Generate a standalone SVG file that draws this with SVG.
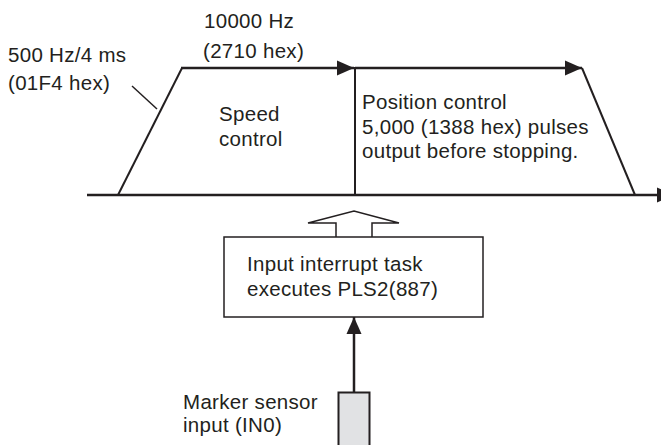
<svg xmlns="http://www.w3.org/2000/svg" width="661" height="445" viewBox="0 0 661 445">
<style>
  text { font-family: "Liberation Sans", Arial, sans-serif; font-size: 20.5px; letter-spacing: 0.3px; fill: #231f20; }
  .ln { stroke: #231f20; stroke-width: 2; fill: none; }
  .thick { stroke: #231f20; stroke-width: 2.5; fill: none; }
  .thin { stroke: #231f20; stroke-width: 1.5; fill: none; }
</style>
<defs>
  <marker id="arrow" markerUnits="userSpaceOnUse" markerWidth="18" markerHeight="16" refX="17" refY="8" orient="auto">
    <path d="M0,0.5 L17,8 L0,15.5 z" fill="#231f20"/>
  </marker>
</defs>
<rect width="661" height="445" fill="#ffffff"/>

<g id="speed-profile">
  <line class="thick" x1="87" y1="195" x2="674" y2="195" marker-end="url(#arrow)"/>
  <line class="ln" x1="118" y1="195" x2="182" y2="68"/>
  <line class="thick" x1="181" y1="68" x2="354" y2="68" marker-end="url(#arrow)"/>
  <line class="thick" x1="355" y1="68" x2="582" y2="68" marker-end="url(#arrow)"/>
  <line class="ln" x1="582" y1="68" x2="635" y2="195"/>
  <line class="ln" x1="355" y1="67" x2="355" y2="195"/>
</g>

<g id="accel-label">
  <text x="8" y="62">500 Hz/4 ms</text>
  <text x="8" y="90">(01F4 hex)</text>
</g>
<g id="speed-label">
  <text x="204" y="28">10000 Hz</text>
  <text x="203" y="58">(2710 hex)</text>
</g>
<g id="speed-control">
  <text x="219" y="121">Speed</text>
  <text x="219" y="146">control</text>
</g>
<g id="position-control">
  <text x="362" y="109">Position control</text>
  <text x="362" y="134">5,000 (1388 hex) pulses</text>
  <text x="362" y="158">output before stopping.</text>
</g>

<g id="interrupt-box">
  <rect class="thin" x="224" y="237" width="259" height="80" fill="#ffffff"/>
  <text x="247" y="271">Input interrupt task</text>
  <text x="247" y="296">executes PLS2(887)</text>
</g>

<g id="sensor">
  <rect x="338.5" y="392.5" width="31" height="60" fill="#e1e2e4" stroke="#231f20" stroke-width="2"/>
  <text x="183" y="409">Marker sensor</text>
  <text x="183" y="432">input (IN0)</text>
</g>

<g id="connectors">
  <line class="thin" x1="132" y1="86" x2="157" y2="109"/>
  <polyline class="thin" fill="#ffffff" points="336,237 336,223 308,223 354,211 399,223 372,223 372,237"/>
  <line class="thick" x1="354" y1="392" x2="354" y2="317" marker-end="url(#arrow)"/>
</g>
</svg>
